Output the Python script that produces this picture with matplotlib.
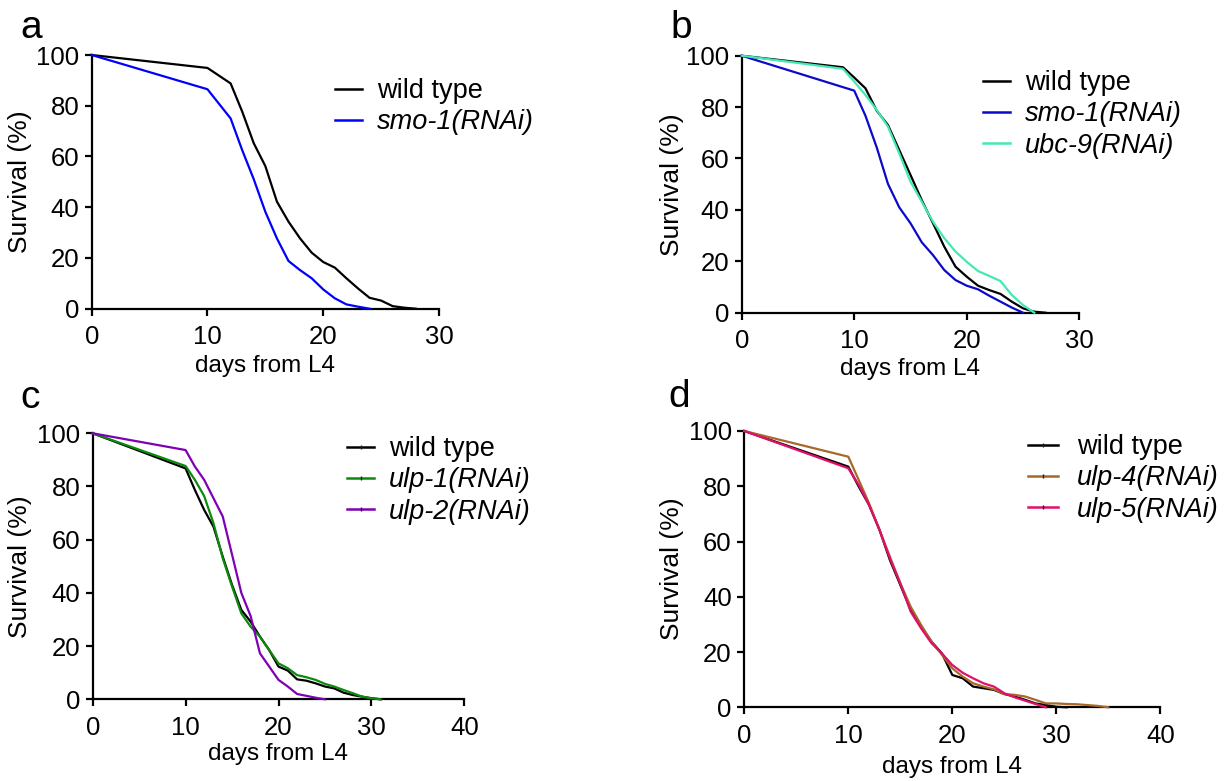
import matplotlib
matplotlib.use('Agg')
import matplotlib.pyplot as plt
from matplotlib.lines import Line2D

plt.rcParams['font.family'] = ['Liberation Sans', 'DejaVu Sans']

# ---- panel a ----
a_wt_days = [0, 10, 12, 13, 14, 15, 16, 17, 18, 19, 20, 21, 22, 23, 24, 25, 26, 27, 28]
a_wt_surv = [100, 94.9, 88.8, 77.7, 65.2, 56.2, 42.2, 34.3, 27.7, 22.1, 18.4, 16.2, 12.0, 8.0, 4.3, 3.2, 1.0, 0.4, 0]
a_smo_days = [0, 10, 12, 13, 14, 15, 16, 17, 18, 19, 20, 21, 22, 23, 24]
a_smo_surv = [100, 86.5, 75.0, 62.5, 51.0, 38.2, 27.7, 18.8, 15.2, 12.0, 7.6, 4.1, 1.7, 0.8, 0]

# ---- panel b ----
b_wt_days = [0, 9, 10, 11, 12, 13, 14, 15, 16, 17, 18, 19, 20, 21, 22, 23, 24, 25, 26, 27]
b_wt_surv = [100, 95.5, 91.5, 87.3, 78.6, 73.0, 63.3, 53.6, 43.8, 34.8, 25.7, 17.9, 14.0, 10.5, 8.8, 7.3, 4.3, 1.7, 0.4, 0]
b_smo_days = [0, 10, 11, 12, 13, 14, 15, 16, 17, 18, 19, 20, 21, 22, 23, 24, 25]
b_smo_surv = [100, 86.4, 76.6, 64.3, 50.1, 41.0, 34.8, 27.4, 22.4, 16.6, 12.7, 10.5, 9.1, 6.6, 4.3, 2.0, 0]
b_ubc_days = [0, 9, 10, 11, 12, 13, 14, 15, 16, 17, 18, 19, 20, 21, 22, 23, 24, 25, 26]
b_ubc_surv = [100, 94.9, 89.9, 84.7, 78.9, 72.4, 62.0, 51.0, 43.2, 35.4, 29.0, 23.8, 19.8, 16.2, 14.3, 12.3, 6.9, 3.0, 0]

# ---- panel c ----
c_wt_days = [0, 10, 11, 12, 13, 14, 15, 16, 17, 18, 19, 20, 21, 22, 23, 24, 25, 26, 27, 28, 29, 30, 31]
c_wt_surv = [100, 86.8, 78.7, 71.2, 64.9, 53.6, 43.0, 33.6, 29.2, 23.6, 18.5, 12.3, 10.8, 7.5, 7.0, 6.0, 4.8, 4.1, 2.5, 1.6, 1.0, 0.4, 0]
c_ulp1_days = [0, 10, 11, 12, 13, 14, 15, 16, 17, 18, 19, 20, 21, 22, 23, 24, 25, 26, 27, 28, 29, 30, 31]
c_ulp1_surv = [100, 87.7, 82.5, 76.4, 66.2, 53.0, 42.4, 32.3, 27.3, 23.6, 18.5, 13.5, 11.7, 9.1, 8.3, 7.3, 5.8, 4.8, 3.5, 2.3, 1.0, 0.4, 0]
c_ulp2_days = [0, 10, 11, 12, 13, 14, 15, 16, 17, 18, 19, 20, 21, 22, 23, 24, 25]
c_ulp2_surv = [100, 93.7, 87.5, 82.5, 75.6, 68.7, 54.4, 40.0, 31.3, 17.3, 12.3, 7.3, 4.8, 2.0, 1.3, 0.6, 0]

# ---- panel d ----
d_wt_days = [0, 10, 11, 12, 13, 14, 15, 16, 17, 18, 19, 20, 21, 22, 23, 24, 25, 26, 27, 28, 29, 30, 31]
d_wt_surv = [100, 87.1, 79.9, 73.2, 64.2, 53.3, 44.3, 35.2, 29.2, 23.8, 19.5, 11.7, 10.5, 7.5, 6.9, 6.3, 4.8, 3.9, 2.7, 1.4, 0.8, 0.2, 0]
d_ulp4_days = [0, 10, 11, 12, 13, 14, 15, 16, 17, 18, 19, 20, 21, 22, 23, 24, 25, 26, 27, 28, 29, 30, 31, 32, 33, 34, 35]
d_ulp4_surv = [100, 90.7, 82.3, 73.8, 64.2, 54.5, 44.9, 36.4, 29.8, 23.8, 19.0, 14.1, 11.1, 8.7, 7.5, 6.5, 4.8, 4.5, 3.9, 2.7, 1.4, 1.4, 1.2, 1.1, 0.8, 0.5, 0]
d_ulp5_days = [0, 10, 11, 12, 13, 14, 15, 16, 17, 18, 19, 20, 21, 22, 23, 24, 25, 26, 27, 28, 29]
d_ulp5_surv = [100, 86.5, 80.5, 73.2, 64.2, 53.9, 44.9, 34.6, 28.6, 23.2, 19.5, 15.3, 12.5, 10.5, 8.7, 7.5, 5.1, 3.6, 2.4, 1.2, 0]

W, H = 1225, 781
fig = plt.figure(figsize=(W / 100, H / 100), dpi=100)


def px_axes(left, right, top, bottom):
    # axes rectangle given in pixel coordinates of the reference
    return fig.add_axes([left / W, 1 - bottom / H, (right - left) / W, (bottom - top) / H])


def style_axes(ax, xmax):
    ax.set_xlim(0, xmax)
    ax.set_ylim(0, 100)
    ax.set_xticks(range(0, xmax + 1, 10))
    ax.set_yticks(range(0, 101, 20))
    for s in ['top', 'right']:
        ax.spines[s].set_visible(False)
    for s in ['left', 'bottom']:
        ax.spines[s].set_linewidth(1.6)
    ax.tick_params(axis='both', width=1.6, length=5, labelsize=18.5)
    ax.tick_params(axis='x', pad=7)
    ax.tick_params(axis='y', pad=4)


def add_legend(ax, handles, labels, x, y, hl=1.1, htp=0.6):
    leg = ax.legend(handles, labels, loc='upper left', bbox_to_anchor=(x / W, 1 - y / H),
                    bbox_transform=fig.transFigure, frameon=False, fontsize=19.5,
                    borderpad=0, borderaxespad=0, handlelength=hl, handletextpad=htp,
                    labelspacing=0.2, numpoints=1)
    for t in leg.get_texts():
        if 'RNAi' in t.get_text():
            t.set_fontstyle('italic')
    return leg


panels = [
    dict(box=(91.7, 439, 55, 308.7), xmax=30, letter='a', letter_xy=(20, 38),
         ylab_x=20, xlab_y=366,
         series=[(a_wt_days, a_wt_surv, 'black', 'wild type'),
                 (a_smo_days, a_smo_surv, '#0000ff', 'smo-1(RNAi)')],
         leg_xy=(335, 78), ticks=False, hl=1.0, htp=0.55),
    dict(box=(741.7, 1079.3, 55.7, 312.7), xmax=30, letter='b', letter_xy=(670, 38),
         ylab_x=672, xlab_y=369,
         series=[(b_wt_days, b_wt_surv, 'black', 'wild type'),
                 (b_smo_days, b_smo_surv, '#0a0ac8', 'smo-1(RNAi)'),
                 (b_ubc_days, b_ubc_surv, '#44e8b4', 'ubc-9(RNAi)')],
         leg_xy=(983, 70), ticks=False, hl=1.0, htp=0.55),
    dict(box=(92.7, 464.3, 433.3, 699.3), xmax=40, letter='c', letter_xy=(20, 408),
         ylab_x=20, xlab_y=754,
         series=[(c_wt_days, c_wt_surv, 'black', 'wild type'),
                 (c_ulp1_days, c_ulp1_surv, '#0c8a0c', 'ulp-1(RNAi)'),
                 (c_ulp2_days, c_ulp2_surv, '#8000b4', 'ulp-2(RNAi)')],
         leg_xy=(347, 436), ticks=True, hl=1.0, htp=0.55),
    dict(box=(744.3, 1160.3, 431, 707.3), xmax=40, letter='d', letter_xy=(668, 407),
         ylab_x=672, xlab_y=767,
         series=[(d_wt_days, d_wt_surv, 'black', 'wild type'),
                 (d_ulp4_days, d_ulp4_surv, '#a8682a', 'ulp-4(RNAi)'),
                 (d_ulp5_days, d_ulp5_surv, '#e0106a', 'ulp-5(RNAi)')],
         leg_xy=(1028, 434), ticks=True, hl=1.1, htp=0.7),
]

for p in panels:
    left, right, top, bottom = p['box']
    ax = px_axes(left, right, top, bottom)
    style_axes(ax, p['xmax'])
    handles, labels = [], []
    for days, surv, color, label in p['series']:
        ax.plot(days, surv, color=color, lw=1.6, clip_on=False, zorder=3)
        if p['ticks']:
            h = Line2D([], [], color=color, lw=1.8, marker='|', ms=3, mec='#202020', mew=1)
        else:
            h = Line2D([], [], color=color, lw=1.8)
        handles.append(h)
        labels.append(label)
    add_legend(ax, handles, labels, *p['leg_xy'], hl=p['hl'], htp=p['htp'])

    fig.text(p['letter_xy'][0] / W, 1 - p['letter_xy'][1] / H, p['letter'],
             fontsize=28, ha='left', va='baseline')
    fig.text(p['ylab_x'] / W, 1 - ((top + bottom) / 2) / H, 'Survival (%)',
             fontsize=19, rotation=90, ha='center', va='center')
    fig.text(((left + right) / 2) / W, 1 - p['xlab_y'] / H, 'days from L4',
             fontsize=17.5, ha='center', va='center')

fig.savefig('out.png', dpi=100)
